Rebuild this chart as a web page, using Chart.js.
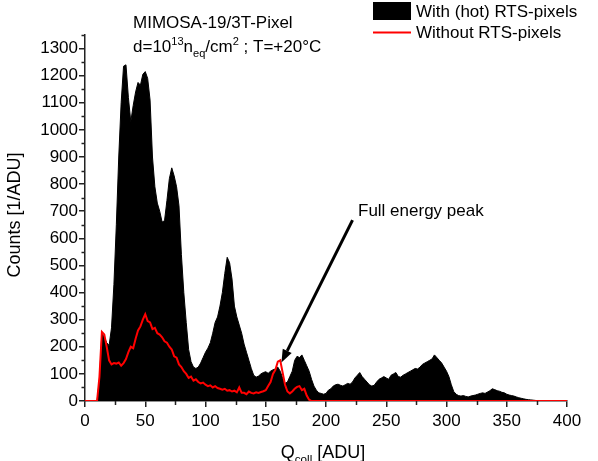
<!DOCTYPE html>
<html>
<head>
<meta charset="utf-8">
<script src="https://cdn.jsdelivr.net/npm/chart.js@4.4.1/dist/chart.umd.min.js"></script>
<style>
  html, body { margin: 0; padding: 0; background: #fff; }
  #wrap { width: 598px; height: 461px; }
</style>
</head>
<body>
<div id="wrap"><canvas id="histChart" width="598" height="461"></canvas></div>
<script>
const FONT = '"Liberation Sans", Arial, Helvetica, sans-serif';

// Q_coll bins in ADU (bin i starts at i * binWidth)
const binWidth = 2;

// Counts [1/ADU] with (hot) RTS-pixels, Q = 0, 2, 4 ... 400
const withRts = [
    0, 0, 0, 0, 0, 0, 80, 250, 235, 215,
    205, 270, 430, 650, 900, 1100, 1235, 1240, 1120, 1030,
    1090, 1140, 1175, 1165, 1205, 1215, 1190, 1110, 900, 790,
    730, 700, 660, 665, 740, 820, 860, 830, 790, 720,
    540, 400, 290, 190, 145, 125, 120, 125, 140, 160,
    180, 195, 215, 250, 290, 310, 350, 400, 470, 530,
    510, 450, 350, 310, 280, 250, 210, 180, 150, 120,
    95, 88, 92, 100, 105, 108, 102, 110, 115, 118,
    125, 110, 85, 65, 70, 90, 110, 150, 165, 160,
    170, 150, 130, 110, 80, 55, 40, 30, 28, 25,
    28, 40, 45, 55, 60, 62, 58, 55, 60, 65,
    62, 70, 85, 95, 105, 90, 80, 70, 60, 55,
    58, 70, 80, 85, 90, 85, 80, 95, 100, 105,
    90, 88, 95, 100, 105, 110, 115, 120, 118, 125,
    135, 140, 145, 150, 155, 170, 160, 150, 140, 125,
    110, 90, 60, 35, 25, 20, 18, 20, 17, 15,
    18, 20, 22, 25, 28, 30, 28, 33, 38, 45,
    42, 38, 36, 32, 30, 25, 22, 20, 18, 15,
    12, 10, 8, 6, 5, 4, 3, 2, 1, 1,
    0, 0, 0, 0, 0, 0, 0, 0, 0, 0,
    0
];

// Counts [1/ADU] without RTS-pixels, same bins
const withoutRts = [
    0, 0, 0, 0, 0, 0, 90, 255, 245, 200,
    150, 135, 140, 138, 142, 130, 140, 155, 180, 200,
    195, 230, 260, 275, 300, 320, 295, 290, 265, 270,
    250, 245, 235, 220, 215, 200, 190, 165, 160, 135,
    125, 110, 100, 85, 90, 75, 80, 70, 65, 68,
    60, 55, 58, 50, 55, 48, 45, 42, 45, 38,
    40, 35, 38, 32, 50, 30, 30, 25, 35, 30,
    28, 32, 30, 33, 36, 40, 55, 70, 100, 115,
    145, 150, 105, 60, 35, 28, 35, 45, 52, 55,
    40, 45, 20, 5, 0, 0, 0, 0, 0, 0,
    0, 0, 0, 0, 0, 0, 0, 0, 0, 0,
    0, 0, 0, 0, 0, 0, 0, 0, 0, 0,
    0, 0, 0, 0, 0, 0, 0, 0, 0, 0,
    0, 0, 0, 0, 0, 0, 0, 0, 0, 0,
    0, 0, 0, 0, 0, 0, 0, 0, 0, 0,
    0, 0, 0, 0, 0, 0, 0, 0, 0, 0,
    0, 0, 0, 0, 0, 0, 0, 0, 0, 0,
    0, 0, 0, 0, 0, 0, 0, 0, 0, 0,
    0, 0, 0, 0, 0, 0, 0, 0, 0, 0,
    0, 0, 0, 0, 0, 0, 0, 0, 0, 0,
    0
];

const seriesLabels = ['With (hot) RTS-pixels', 'Without RTS-pixels'];

// axis ranges and labelled ticks
const xRange = [0, 400];
const yRange = [0, 1350];
const xTicks = [0, 50, 100, 150, 200, 250, 300, 350, 400];
const yTicks = [0, 100, 200, 300, 400, 500, 600, 700, 800, 900, 1000, 1100, 1200, 1300];

// where the "Full energy peak" arrow goes (data coords)
const arrowFrom = [222, 667];
const arrowTo = [163, 142];

function toPoints(values) {
    return values.map((v, i) => ({ x: i * binWidth, y: v }));
}

// draw text with sub/superscript pieces, left aligned on a baseline
function drawRich(ctx, parts, x, y, size) {
    ctx.textBaseline = 'alphabetic';
    ctx.textAlign = 'left';
    parts.forEach(p => {
        let fs = size, dy = 0;
        if (p.sup) { fs = size * 0.65; dy = -7; }
        if (p.sub) { fs = size * 0.65; dy = 5; }
        ctx.font = fs + 'px ' + FONT;
        ctx.fillText(p.t, x, y + dy);
        x += ctx.measureText(p.t).width;
    });
    return x;
}

function richWidth(ctx, parts, size) {
    let w = 0;
    parts.forEach(p => {
        const fs = (p.sup || p.sub) ? size * 0.65 : size;
        ctx.font = fs + 'px ' + FONT;
        w += ctx.measureText(p.t).width;
    });
    return w;
}

const decorations = {
    id: 'decorations',
    afterDraw(chart) {
        const ctx = chart.ctx;
        const xs = chart.scales.x, ys = chart.scales.y;
        const area = chart.chartArea;
        ctx.save();

        // minor ticks
        ctx.strokeStyle = '#222';
        ctx.lineWidth = 1.5;
        ctx.beginPath();
        for (let v = 50; v <= yRange[1]; v += 100) {
            const y = Math.round(ys.getPixelForValue(v)) + 0.5;
            ctx.moveTo(area.left - 3.5, y);
            ctx.lineTo(area.left, y);
        }
        for (let v = 25; v <= xRange[1]; v += 50) {
            const x = Math.round(xs.getPixelForValue(v)) + 0.5;
            ctx.moveTo(x, area.bottom);
            ctx.lineTo(x, area.bottom + 4);
        }
        ctx.stroke();

        ctx.fillStyle = '#000';

        // y axis title
        ctx.save();
        ctx.translate(20, 215);
        ctx.rotate(-Math.PI / 2);
        ctx.font = '18px ' + FONT;
        ctx.textAlign = 'center';
        ctx.textBaseline = 'alphabetic';
        ctx.fillText('Counts [1/ADU]', 0, 0);
        ctx.restore();

        // x axis title
        const xTitle = [{ t: 'Q' }, { t: 'coll', sub: true }, { t: ' [ADU]' }];
        const xw = richWidth(ctx, xTitle, 18);
        drawRich(ctx, xTitle, (area.left + area.right) / 2 - xw / 2 - 3, 458, 18);

        // sample / conditions
        ctx.font = '17px ' + FONT;
        ctx.textBaseline = 'alphabetic';
        ctx.fillText('MIMOSA-19/3T-Pixel', 133, 28);
        drawRich(ctx, [
            { t: 'd=10' }, { t: '13', sup: true }, { t: 'n' }, { t: 'eq', sub: true },
            { t: '/cm' }, { t: '2', sup: true }, { t: ' ; T=+20°C' }
        ], 133, 52, 17);

        // legend
        ctx.fillRect(373, 2, 38, 18);
        ctx.strokeStyle = '#ff0000';
        ctx.lineWidth = 2;
        ctx.beginPath();
        ctx.moveTo(373, 32.5);
        ctx.lineTo(411, 32.5);
        ctx.stroke();
        ctx.font = '17px ' + FONT;
        ctx.textBaseline = 'middle';
        ctx.fillText(seriesLabels[0], 416, 12);
        ctx.fillText(seriesLabels[1], 416, 33);

        // annotation arrow
        const x1 = xs.getPixelForValue(arrowFrom[0]), y1 = ys.getPixelForValue(arrowFrom[1]);
        const x2 = xs.getPixelForValue(arrowTo[0]), y2 = ys.getPixelForValue(arrowTo[1]);
        const ang = Math.atan2(y2 - y1, x2 - x1);
        const headLen = 13, headW = 5;
        const bx = x2 - headLen * Math.cos(ang), by = y2 - headLen * Math.sin(ang);
        ctx.strokeStyle = '#000';
        ctx.lineWidth = 3;
        ctx.beginPath();
        ctx.moveTo(x1, y1);
        ctx.lineTo(bx, by);
        ctx.stroke();
        ctx.beginPath();
        ctx.moveTo(x2, y2);
        ctx.lineTo(bx + headW * Math.sin(ang), by - headW * Math.cos(ang));
        ctx.lineTo(bx - headW * Math.sin(ang), by + headW * Math.cos(ang));
        ctx.closePath();
        ctx.fill();

        ctx.font = '17px ' + FONT;
        ctx.textBaseline = 'alphabetic';
        ctx.fillText('Full energy peak', 358, 216);

        ctx.restore();
    }
};

const ctx = document.getElementById('histChart').getContext('2d');
new Chart(ctx, {
    type: 'line',
    data: {
        datasets: [
            {
                label: seriesLabels[1],
                data: toPoints(withoutRts),
                borderColor: '#ff0000',
                borderWidth: 2,
                pointRadius: 0,
                fill: false,
                tension: 0,
                order: 0
            },
            {
                label: seriesLabels[0],
                data: toPoints(withRts),
                borderColor: '#000',
                backgroundColor: '#000',
                borderWidth: 1,
                pointRadius: 0,
                fill: 'origin',
                tension: 0,
                order: 1
            }
        ]
    },
    options: {
        responsive: false,
        animation: false,
        devicePixelRatio: 1,
        layout: { padding: { top: 35, right: 31, left: 0, bottom: 0 } },
        plugins: {
            legend: { display: false },
            tooltip: { enabled: false }
        },
        scales: {
            x: {
                type: 'linear',
                min: xRange[0],
                max: xRange[1],
                afterFit: scale => { scale.height = 60; },
                afterBuildTicks: scale => {
                    scale.ticks = xTicks.map(v => ({ value: v }));
                },
                border: { display: true, color: '#222', width: 1.5 },
                grid: { display: true, drawOnChartArea: false, drawTicks: true, tickLength: 6, color: '#222', lineWidth: 1.5 },
                ticks: {
                    padding: 4,
                    color: '#000',
                    font: { family: FONT, size: 17 },
                    maxRotation: 0,
                    callback: v => String(v)
                }
            },
            y: {
                min: yRange[0],
                max: yRange[1],
                afterFit: scale => { scale.width = 85; },
                afterBuildTicks: scale => {
                    scale.ticks = yTicks.map(v => ({ value: v }));
                },
                border: { display: true, color: '#222', width: 1.5 },
                grid: { display: true, drawOnChartArea: false, drawTicks: true, tickLength: 6, color: '#222', lineWidth: 1.5 },
                ticks: {
                    padding: 1,
                    color: '#000',
                    font: { family: FONT, size: 17 },
                    callback: v => String(v)
                }
            }
        }
    },
    plugins: [decorations]
});
</script>
</body>
</html>
